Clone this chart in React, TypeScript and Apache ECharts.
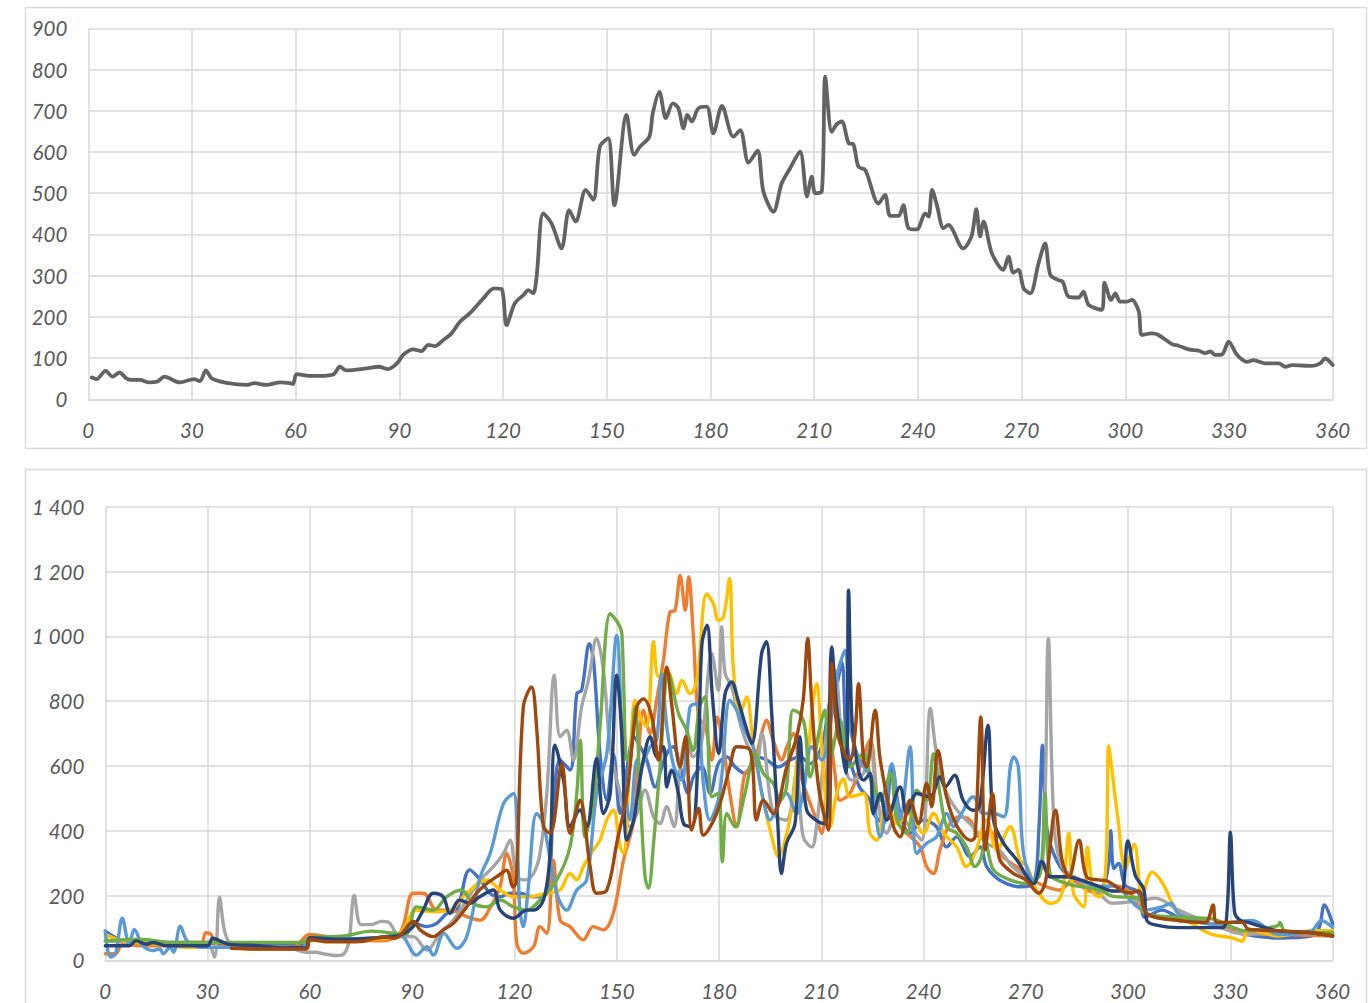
import { useEffect, useRef } from "react";
import * as echarts from "echarts";

type P = [number, number][];

const xTickStep = 30;
const xMax = 360;
const topYMax = 900;
const topYStep = 100;
const botYMax = 1400;
const botYStep = 200;

const seriesNames = ["S1", "S2", "S3", "S4", "S5", "S6", "S7", "S8"];
const seriesColors = ["#4472C4", "#ED7D31", "#A5A5A5", "#FFC000", "#5B9BD5", "#70AD47", "#264478", "#9E480E"];
const averageColor = "#636363";

const average: P = [[1,53],[2.4,49],[5,69],[7,55],[9,65],[11,51],[12.5,47],[15,47],[17.5,41],[20,43],[22,55],[26.5,41],[30.5,49],[32.3,44],[34,70],[35.7,51],[40,40],[46,35],[48,39],[51.5,35],[55.5,41],[58.4,39],[59.2,37],[60.3,61],[64,57],[67,57],[71,61],[72.8,79],[74.7,70],[80.5,75],[84,79],[86.8,73],[88.2,79],[89.7,91],[91.1,108],[94,121],[96.4,117],[98.4,132],[100.3,129],[102.7,144],[105.1,160],[107.5,188],[110.4,209],[114.3,245],[117.4,269],[119.6,267],[121,180],[123.4,233],[125.9,253],[127.3,265],[128.7,257],[129.7,298],[131.6,451],[134,427],[136.9,366],[139.1,459],[141,431],[143.9,508],[146.1,484],[148,613],[150.4,633],[152.2,471],[155.7,690],[157.9,593],[159.6,613],[162.3,637],[163.3,694],[165.2,746],[167.1,682],[169.1,718],[170.7,706],[172.2,657],[173.3,690],[174.6,674],[176.5,706],[178.9,710],[180.8,645],[183.3,712],[186.6,637],[188.6,653],[191,574],[193.6,603],[195.3,504],[198.2,455],[200.6,524],[203,560],[205.9,601],[207.9,492],[209.3,540],[210.3,500],[212.2,504],[213.2,783],[215.1,649],[216.6,668],[218,674],[220,621],[221.3,619],[222.8,564],[224.8,556],[228.6,475],[230.5,496],[232,445],[234.4,445],[235.8,471],[237.3,415],[239.7,412],[242.1,451],[243.1,443],[244.1,508],[245.5,471],[247.4,415],[248.8,423],[253.1,366],[255.5,395],[256.9,461],[258,395],[259,431],[261.4,354],[264.7,314],[266.2,346],[267.6,307],[269.1,314],[270.6,269],[272.5,257],[274.9,330],[276.8,378],[278.3,302],[280.7,289],[281.9,285],[283.6,249],[286.5,247],[287.9,261],[289.4,229],[293.2,217],[294,283],[295.9,241],[297.1,257],[298.5,237],[300.5,237],[301.9,241],[303.9,213],[304.8,156],[307.7,160],[309.6,156],[313.5,134],[315.4,130],[318.3,121],[321.2,118],[323.1,112],[324.6,116],[326,108],[328,109],[329.9,140],[332.3,108],[335.2,91],[337.1,95],[340.5,87],[344.4,87],[346.3,79],[348.2,83],[354,81],[356.4,87],[357.8,99],[360,83]];

const blue: P = [[0,90],[3,70],[5,60],[10,55],[20,55],[30,55],[35,45],[45,45],[58,45],[60,65],[70,65],[80,70],[86.4,83],[90.3,114],[94.3,104],[97.2,114],[100.2,145],[103.1,155],[106.9,279],[110,248],[112.8,207],[115.8,196],[118.7,207],[121.6,207],[125.6,196],[129.5,207],[131.4,464],[133.4,618],[136.3,587],[138.3,823],[139.7,833],[142,977],[143.2,926],[145.1,638],[147.1,494],[149,638],[151,453],[153.4,618],[155,690],[156.9,659],[158.8,618],[161.3,535],[163.2,597],[165.2,648],[166.6,659],[168.6,597],[171,515],[172.5,566],[175,597],[177.4,515],[179.8,607],[182.3,628],[184.7,597],[187.6,577],[191.1,628],[194,618],[197.4,597],[200.8,618],[203.8,628],[206.7,607],[210.1,659],[212.6,803],[214,823],[216,920],[217.2,700],[218.4,618],[221.2,535],[224.3,494],[225.3,453],[228.3,422],[230.7,597],[233.1,453],[236,392],[239.9,433],[243.8,412],[246.8,350],[249.7,381],[253.6,320],[256.6,350],[258.5,289],[262.3,248],[268.2,227],[272.2,237],[273.8,400],[274.9,664],[276.1,412],[279,309],[283.9,248],[291.8,227],[294.3,300],[294.9,400],[295.8,283],[297.2,299],[299.2,230],[303,210],[305,133],[309.9,155],[314.8,133],[324.6,112],[334.4,80],[344,69],[353.7,75],[356,100],[357.6,171],[360,112]];

const orange: P = [[0,20],[3,20],[5,50],[10,45],[20,45],[28,50],[29.5,85],[31,80],[33,40],[37,55],[42,35],[55,35],[57,55],[60,80],[70,65],[80,60],[86.4,83],[90.3,207],[93.3,207],[97.2,155],[101.1,155],[106,135],[110,124],[113,165],[115.8,227],[117.7,330],[119.6,258],[120.7,52],[122.6,22],[125.6,42],[127.5,104],[129.5,83],[131.4,309],[133.4,124],[136.3,104],[140.2,63],[143.1,104],[146.1,94],[149,145],[152,309],[155,433],[156.5,650],[157.8,772],[159.8,700],[161.7,803],[163.7,926],[165.6,1075],[167.1,1080],[168.6,1188],[170.1,1080],[171.1,1183],[172.5,998],[174,751],[176,720],[177.9,618],[179.5,751],[181.3,659],[183.2,515],[185.2,412],[187.6,577],[190,597],[192.5,700],[193.9,741],[195.9,679],[198.4,618],[199.9,659],[201.8,700],[203.8,577],[205.7,515],[208.6,433],[210.1,392],[212.6,690],[214,577],[215.5,494],[218.4,515],[221.4,597],[224.3,679],[227.3,453],[231.2,433],[235.1,392],[239,350],[240.9,289],[242.9,268],[244.8,340],[247.7,422],[250.6,443],[253.6,433],[256.4,381],[259.3,401],[262.3,330],[267.2,289],[272,248],[276,227],[279.9,217],[283.9,248],[287.8,217],[291.8,207],[295,230],[300,215],[305,144],[314.8,123],[324.6,112],[334.4,85],[344,80],[360,75]];

const gray: P = [[0,60],[10,55],[20,50],[30,50],[32,10],[33.5,195],[35,90],[37,50],[45,40],[55,35],[59,25],[62,25],[64,20],[68,15],[70,20],[71.5,60],[73,200],[75,110],[78,110],[81,120],[83,118],[86.4,73],[90.3,73],[94.3,32],[98.2,83],[102.1,124],[106,186],[110,248],[113.8,289],[116.8,330],[118.7,371],[120.7,258],[123.1,248],[125.6,268],[127.5,330],[129.5,515],[131.7,880],[133.4,690],[135.3,710],[137.3,618],[139.7,782],[141.7,864],[144.1,993],[146.1,895],[148.1,659],[151,515],[153.9,412],[155.9,453],[158.3,525],[160.8,443],[162.7,422],[164.6,474],[166.8,412],[168.6,597],[170.5,690],[172.4,628],[174.8,669],[177.9,947],[179.8,833],[180.8,1029],[181.8,885],[183.7,844],[186.2,731],[188.6,659],[191.1,618],[192.5,700],[195.9,453],[199.8,433],[202.7,577],[204.7,381],[207.2,350],[208.6,412],[211.6,710],[214,895],[216.5,628],[218.9,556],[222.4,577],[224.3,669],[226.2,515],[229.2,392],[232.2,453],[236,412],[239.4,371],[242,777],[243.8,638],[246.8,515],[250.6,453],[254.5,412],[258.5,361],[262.3,340],[266.1,289],[272,248],[274.9,299],[276.6,993],[278.3,412],[280.7,289],[285.6,248],[291.4,207],[295.3,176],[305,187],[307.9,192],[314.8,155],[324.6,112],[334.4,80],[344,85],[360,80]];

const yellow: P = [[0,80],[5,60],[15,50],[25,40],[40,40],[58,40],[60,60],[70,62],[80,65],[86.4,83],[91.3,155],[96.2,150],[101.1,155],[106,207],[111.9,248],[115.8,217],[119.7,196],[123.6,196],[129.5,207],[133.4,217],[136.3,268],[138.3,248],[140.2,289],[143.1,340],[145.1,371],[147.1,433],[149,464],[151,350],[152,330],[153.9,618],[155.4,803],[156.9,751],[158.8,720],[160.8,983],[162.3,875],[164.7,895],[167.6,823],[169.1,864],[171.5,823],[173.5,864],[176.4,1131],[178.4,1100],[179.8,1049],[181.3,1059],[183.1,1178],[184.2,900],[186.2,762],[188.1,813],[190.1,659],[193,494],[195.5,381],[197.4,320],[199.4,371],[201.8,494],[203.3,628],[205.2,566],[207.2,762],[208.6,854],[210.6,577],[212.6,412],[214.5,515],[216.5,560],[218.4,505],[222.4,515],[224.3,392],[226.3,371],[229.2,494],[232.2,422],[236,453],[239.9,392],[242.9,453],[245.9,392],[249.7,350],[252.6,289],[255.1,330],[258.5,433],[261.5,340],[265.4,412],[268.3,309],[270.3,289],[273.2,217],[277.1,176],[279.6,186],[281,227],[282.6,392],[284,207],[287,165],[288,350],[289.9,207],[291.8,196],[293.5,300],[294.3,662],[295.3,582],[297,438],[299.2,283],[301.8,358],[304.1,198],[307,272],[310,240],[312.9,176],[314.8,144],[320.7,101],[324.6,80],[330.5,69],[333.4,59],[335.3,96],[344,75],[353.7,91],[360,91]];

const lightBlue: P = [[0,90],[1.5,10],[3,20],[5,130],[7,50],[8.5,95],[11,45],[14,30],[16,35],[17,20],[19,40],[20,25],[22,105],[24,60],[28,40],[40,40],[58,40],[60,60],[70,65],[80,70],[86.4,78],[91.3,16],[94.3,42],[96.2,16],[99.3,83],[103.1,37],[106,73],[110,258],[112.9,330],[116.8,484],[119.7,515],[121.6,155],[122.6,104],[124,217],[126.5,453],[128.5,422],[132.4,207],[135.3,155],[138.3,217],[141.2,248],[144.1,515],[147.1,638],[150,1003],[152,577],[153.9,433],[155.9,618],[156.8,597],[159.8,659],[161.7,679],[163.2,885],[164.7,720],[166.8,597],[169.1,556],[171.5,782],[173.4,792],[175.4,546],[177.3,433],[180.2,515],[183.2,803],[185.2,772],[187.1,720],[190,659],[193,494],[195,433],[197,474],[199.8,515],[202.8,453],[204.7,515],[207.2,659],[210.1,618],[213,751],[215,895],[217,957],[218.4,720],[221.2,618],[224.3,566],[227.3,381],[230.7,607],[233.1,433],[236,659],[238,330],[240.9,361],[243.8,381],[246.8,453],[248.8,412],[250.6,443],[254.6,505],[257.5,453],[260.5,453],[263.5,443],[265.5,600],[266.4,628],[267.8,597],[269.3,330],[272.3,248],[274.7,309],[277.1,258],[282,258],[291.8,227],[295.3,230],[305,155],[310,165],[312.6,176],[314.8,144],[324.6,112],[336.3,123],[344,80],[353.7,91],[356.7,123],[360,101]];

const green: P = [[0,60],[10,65],[20,55],[40,55],[58,55],[60,70],[70,75],[78,90],[88,80],[91.3,165],[96.2,155],[100.1,196],[104.4,217],[107.9,176],[111.9,165],[115.8,186],[119.7,165],[123.6,155],[127.5,186],[132.4,248],[136.3,350],[138.3,515],[139.3,679],[140.7,381],[143.2,494],[145.1,720],[148.1,1070],[150.5,1039],[151.5,1008],[153,618],[154,628],[155.4,782],[156.9,515],[158.3,258],[159.3,222],[160.8,361],[162.7,597],[165.2,885],[168.1,762],[170.5,710],[172.4,648],[174.3,782],[175.9,813],[177.9,505],[179.8,515],[181,304],[182.3,453],[184.7,412],[187.6,515],[190.6,638],[193,577],[195.9,546],[197.9,494],[199.8,535],[201.7,772],[203.7,762],[205.2,720],[206.7,566],[209.6,720],[211,772],[212.5,618],[215.5,741],[218.4,597],[222.4,638],[224.3,577],[227.3,494],[230.3,577],[232.2,433],[235.1,392],[238,525],[240.9,494],[242.9,638],[244.8,515],[246.8,412],[249.7,392],[252.6,350],[255.1,289],[256.6,309],[258.1,361],[260.5,279],[265.4,248],[270.3,237],[274.2,268],[275.6,515],[277.1,268],[282,237],[291.8,217],[295.3,198],[303.1,192],[305,144],[314.8,133],[324.6,128],[334.4,91],[344,107],[344.5,117],[346,91],[360,85]];

const navy: P = [[0,45],[7,45],[9,60],[12,50],[14,55],[18,45],[30,45],[31.5,68],[36,50],[45,45],[52,38],[56,40],[59,38],[60,70],[70,65],[80,70],[86.4,78],[90.3,104],[93,150],[96.2,207],[99.1,196],[101.1,145],[103.9,186],[106.9,176],[109.8,196],[113.8,217],[115.8,155],[119.7,130],[123.6,155],[125.6,155],[128.5,186],[130.4,320],[131.9,664],[134.4,556],[136.3,412],[139.2,464],[141.2,412],[144.1,623],[146.1,453],[148.1,515],[150,880],[151.5,700],[153,371],[155,433],[155.9,494],[157.8,618],[159.8,690],[161.8,628],[163.7,659],[164.7,535],[166.1,587],[168.1,515],[169.6,422],[172,412],[174,669],[175,977],[176.5,1034],[178,823],[179.9,638],[181.8,823],[183.7,859],[185.6,803],[187.6,731],[189.6,669],[192.5,947],[193.9,983],[195.4,772],[197.3,412],[198.3,268],[199.8,361],[202.3,422],[203.7,690],[205.7,464],[209.2,427],[211.2,422],[213.1,967],[214.5,782],[217.2,577],[218,1142],[219,741],[220.9,587],[222.4,556],[224.3,577],[225.3,453],[227.3,515],[229.2,433],[233.1,535],[235.1,453],[238,515],[241.9,505],[244.8,566],[246.3,535],[249.1,571],[251.6,494],[254.5,463],[256.4,474],[258.9,726],[260.5,433],[263.5,361],[267.4,309],[272.3,237],[274.7,304],[277.2,258],[282.1,258],[286,248],[291.8,227],[295.3,214],[298,214],[299.9,368],[302.1,262],[304.6,219],[305.5,123],[309,107],[314.8,101],[327.6,101],[329,150],[330,395],[331.2,150],[332.9,123],[335.3,117],[338.3,107],[344,91],[353.7,85],[360,75]];

const brown: P = [[37,37],[45,35],[59,35],[60,65],[65,57],[75,58],[78,65],[82,72],[85,68],[89.4,114],[90.5,120],[92.3,94],[96.2,73],[99.1,94],[102.1,114],[106,165],[108.9,207],[111.9,237],[114.8,258],[117.7,278],[119.6,227],[120.5,240],[122.6,782],[125,844],[126.5,720],[128.5,412],[130.5,392],[133.9,607],[136.3,392],[139.2,494],[142.2,289],[144.1,207],[147.1,217],[150,361],[153,515],[155.9,782],[157.8,807],[160.3,751],[162.2,618],[164.7,905],[166.1,792],[168.6,597],[170.2,690],[172,402],[174,469],[175.4,386],[179.3,453],[183.2,597],[185.2,659],[189.1,649],[191,433],[193,494],[195.9,453],[199.9,597],[202.8,690],[204.7,803],[206,993],[207.2,792],[209.2,535],[212.1,402],[213.1,916],[215,690],[218.4,618],[219.9,700],[220.9,854],[222.4,618],[223.3,597],[225.8,772],[227.3,618],[231.2,412],[233.1,381],[236,494],[238.5,422],[240.9,546],[242.4,474],[244.2,648],[246.6,510],[249.5,420],[254,370],[255.1,381],[256.8,751],[258.1,340],[260.2,515],[262.2,315],[266.1,270],[270,248],[273.8,207],[275.8,245],[278.7,463],[280.6,309],[282.6,258],[285.6,371],[287.8,258],[291.4,248],[293.5,246],[300.2,208],[303.1,214],[305.5,144],[314.8,123],[322.6,117],[324.9,171],[326,117],[333.4,117],[335.3,96],[344,91],[353.7,85],[360,75]];

const bottomSeries: P[] = [blue, orange, gray, yellow, lightBlue, green, navy, brown];

const gridColor = "#d9d9d9";
const labelStyle = {
  fontFamily: "Lato",
  fontStyle: "italic" as const,
  fontSize: 20.5,
  color: "#595959",
};

function fmtThousands(v: number): string {
  const s = String(Math.round(v));
  return s.replace(/\B(?=(\d{3})+(?!\d))/g, " ");
}

function makeX(gridIndex: number) {
  return {
    type: "value" as const,
    gridIndex,
    min: 0,
    max: xMax,
    interval: xTickStep,
    axisLine: { show: true, lineStyle: { color: gridColor, width: 1.6 } },
    axisTick: { show: false },
    splitLine: { show: true, lineStyle: { color: gridColor, width: 1.5 } },
    axisLabel: { ...labelStyle, margin: 21 },
  };
}

function makeY(gridIndex: number, max: number, step: number) {
  return {
    type: "value" as const,
    gridIndex,
    min: 0,
    max,
    interval: step,
    axisLine: { show: false },
    axisTick: { show: false },
    splitLine: { show: true, lineStyle: { color: gridColor, width: 1.5 } },
    axisLabel: { ...labelStyle, margin: 21, formatter: (v: number) => fmtThousands(v) },
  };
}

export default function App() {
  const ref = useRef<HTMLDivElement>(null);

  useEffect(() => {
    if (!ref.current) return;
    const chart = echarts.init(ref.current, undefined, { renderer: "svg" });
    const lines: any[] = [
      {
        name: "Average",
        type: "line",
        xAxisIndex: 0,
        yAxisIndex: 0,
        data: average,
        showSymbol: false,
        smooth: 0.3,
        lineStyle: { color: averageColor, width: 3.8, cap: "round", join: "round" },
        itemStyle: { color: averageColor },
        z: 3,
      },
    ];
    bottomSeries.forEach((d, i) => {
      lines.push({
        name: seriesNames[i],
        type: "line",
        xAxisIndex: 1,
        yAxisIndex: 1,
        data: d,
        showSymbol: false,
        smooth: 0.35,
        lineStyle: { color: seriesColors[i], width: 3.4, cap: "round", join: "round" },
        itemStyle: { color: seriesColors[i] },
        z: 3 + i * 0.01,
      });
    });
    chart.setOption({
      animation: false,
      backgroundColor: "#ffffff",
      grid: [
        { left: 88.3, top: 28.3, width: 1244.4, height: 371 },
        { left: 105.3, top: 506.7, width: 1227.4, height: 453.6 },
      ],
      xAxis: [makeX(0), makeX(1)],
      yAxis: [makeY(0, topYMax, topYStep), makeY(1, botYMax, botYStep)],
      graphic: [
        {
          type: "rect",
          shape: { x: 25.5, y: 7.5, width: 1341, height: 441 },
          style: { fill: "none", stroke: gridColor, lineWidth: 1.5 },
          silent: true,
        },
        {
          type: "rect",
          shape: { x: 25.5, y: 469.5, width: 1341, height: 560 },
          style: { fill: "none", stroke: gridColor, lineWidth: 1.5 },
          silent: true,
        },
      ],
      series: lines,
    });
    return () => chart.dispose();
  }, []);

  return (
    <div
      ref={ref}
      style={{ position: "absolute", left: 0, top: 0, width: 1372, height: 1003, background: "#fff" }}
    />
  );
}
